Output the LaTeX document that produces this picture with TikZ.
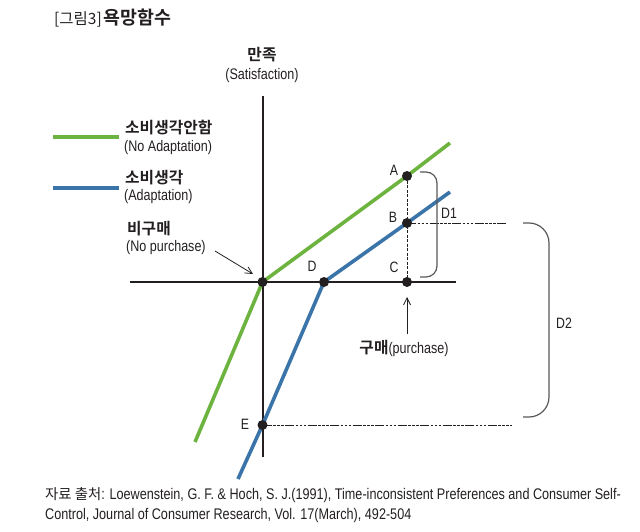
\documentclass[tikz,border=0pt]{standalone}
\usepackage{fontspec}
\setmainfont[FakeStretch=0.82]{Liberation Sans}
\newfontfamily\kr{Noto Sans CJK KR}
\newfontfamily\krb{Noto Sans CJK KR Bold}
\usetikzlibrary{arrows.meta}
\definecolor{gline}{HTML}{6DB33F}
\definecolor{bline}{HTML}{3A74A8}
\definecolor{txt}{HTML}{231F20}
\tikzset{
  axisline/.style={line width=2pt,txt},
  gplot/.style={line width=3.6pt,gline},
  bplot/.style={line width=3.6pt,bline},
  dotnode/.style={circle,fill=txt,inner sep=0pt,minimum size=10pt},
  guide/.style={line width=0.9pt,txt,dash pattern=on 9pt off 1.5pt on 2.5pt off 1.5pt on 2.5pt off 1.5pt on 2.5pt off 1.5pt},
  vguide/.style={line width=0.9pt,txt,dash pattern=on 3pt off 1.5pt},
  brace/.style={line width=1.2pt,black!65},
  letter/.style={font=\fontsize{15}{15}\selectfont,txt,inner sep=0pt},
  kbold/.style={font=\krb\fontsize{15.8}{16}\selectfont,txt,inner sep=0pt,anchor=west},
  enlab/.style={font=\fontsize{15.3}{15.3}\selectfont,txt,inner sep=0pt,anchor=west},
  thinarrow/.style={line width=0.8pt,txt,-{Straight Barb[length=7pt,width=7pt]}}
}
\begin{document}
\begin{tikzpicture}[x=1pt,y=-1pt]
\useasboundingbox (0,0) rectangle (640,532);
% title
\node[anchor=west,inner sep=0pt,txt] (title) at (54,18) {{\kr\fontsize{15.5}{15.5}\selectfont [그림3]}\,{\krb\fontsize{18.4}{18.4}\selectfont 욕망함수}};
% axis labels
\node[font=\krb\fontsize{15.8}{16}\selectfont,txt,inner sep=0pt] (ylab) at (262,55) {만족};
\node[font=\fontsize{15.3}{15.3}\selectfont,txt,inner sep=0pt] (ylab2) at (262,76) {(Satisfaction)};
% axes
\coordinate (vt) at (262.5,96);
\coordinate (vb) at (262.5,457);
\coordinate (hl) at (130,282);
\coordinate (hr) at (456,282);
\draw[axisline] (vt) -- (vb);
\draw[axisline] (hl) -- (hr);
% points
\coordinate (O) at (262.5,282);
\coordinate (A) at (407,176);
\coordinate (B) at (407,223);
\coordinate (C) at (407,282);
\coordinate (D) at (324,282);
\coordinate (E) at (262.5,425);
\coordinate (gtop) at (450,143);
\coordinate (gbot) at (195,442);
\coordinate (btop) at (450,192);
\coordinate (bbot) at (238,479);
% guides
\coordinate (Bend) at (506,223);
\coordinate (Eend) at (512,425);
\draw[vguide] (A) -- (C);
\draw[guide] (B) -- (Bend);
\draw[guide] (E) -- (Eend);
% plot lines
\draw[gplot] (gtop) -- (A) -- (O) -- (gbot);
\draw[bplot] (btop) -- (B) -- (D) -- (E) -- (bbot);
% dots
\foreach \p in {O,A,B,C,D,E} \node[dotnode] (dot\p) at (\p) {};
% letters
\node[letter] (lA) at (394,170) {A};
\node[letter] (lB) at (393,217) {B};
\node[letter] (lC) at (394,267) {C};
\node[letter] (lD) at (312,266) {D};
\node[letter] (lE) at (245,424) {E};
% braces
\draw[brace,rounded corners=11pt] (420,172) -- (437,172) -- (437,277) -- (420,277);
\node[letter] (lD1) at (449,213) {D1};
\draw[brace,rounded corners=20pt] (523,223) -- (549,223) -- (549,417) -- (523,417);
\node[letter] (lD2) at (564,323) {D2};
% purchase
\node[inner sep=0pt,txt] (pur) at (404,348) {{\krb\fontsize{15.8}{16}\selectfont 구매}{\fontsize{15.3}{15.3}\selectfont (purchase)}};
\coordinate (purtip) at (407,297);
\coordinate (purtail) at (407,334);
\draw[thinarrow] (purtail) -- (purtip);
% legend
\coordinate (g1) at (53,137);
\coordinate (g2) at (119,137);
\coordinate (b1) at (53,188);
\coordinate (b2) at (119,188);
\draw[line width=4pt,gline] (g1) -- (g2);
\draw[line width=4pt,bline] (b1) -- (b2);
\node[kbold] (k1) at (125,128) {소비생각안함};
\node[enlab] (e1) at (124,148) {(No Adaptation)};
\node[kbold] (k2) at (125,178) {소비생각};
\node[enlab] (e2) at (124,197) {(Adaptation)};
\node[kbold] (k3) at (127,229) {비구매};
\node[enlab] (e3) at (126,248) {(No purchase)};
\coordinate (nps) at (215,251);
\coordinate (npe) at (253,274);
\draw[thinarrow] (nps) -- (npe);
% source
\node[anchor=west,inner sep=0pt,txt,font=\fontsize{15.4}{15.4}\selectfont] (src1) at (45,495) {{\kr\fontsize{14.4}{14.4}\selectfont 자료 출처}: Loewenstein, G. F. \& Hoch, S. J.(1991), Time-inconsistent Preferences and Consumer Self-};
\node[anchor=west,inner sep=0pt,txt,font=\fontsize{15.4}{15.4}\selectfont] (src2) at (45,516) {Control, Journal of Consumer Research, Vol. 17(March), 492-504};
\end{tikzpicture}
\end{document}
